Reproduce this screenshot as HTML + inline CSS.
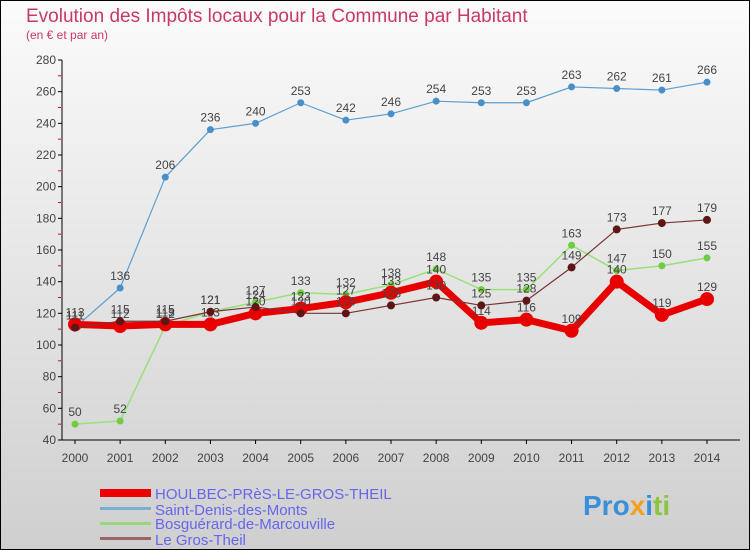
<!DOCTYPE html>
<html><head><meta charset="utf-8"><style>
body{margin:0}
#c{width:750px;height:550px;position:relative;overflow:hidden;font-family:"Liberation Sans",sans-serif}
svg text{font-family:"Liberation Sans",sans-serif}
</style></head><body>
<div id="c">
<svg id="s" width="750" height="550" xmlns="http://www.w3.org/2000/svg">
<defs><linearGradient id="bg" x1="0" y1="0" x2="0" y2="1"><stop offset="0" stop-color="#fbfbfb"/><stop offset="1" stop-color="#cfcfcf"/></linearGradient></defs>
<rect x="0.5" y="0.5" width="749" height="549" fill="url(#bg)" stroke="#000"/>
<text x="26" y="22" font-size="19" fill="#c8386a">Evolution des Impôts locaux pour la Commune par Habitant</text>
<text x="26" y="39" font-size="12" fill="#c8386a">(en € et par an)</text>
<g id="axes"></g><g id="series"></g>
<g>
<rect x="100" y="489" width="51" height="8" fill="#e00"/>
<text x="155" y="499" font-size="15" fill="#6666ee">HOULBEC-PRèS-LE-GROS-THEIL</text>
<rect x="100" y="507" width="51" height="3" fill="#7aaed4"/>
<text x="155" y="515" font-size="15" fill="#6666ee">Saint-Denis-des-Monts</text>
<rect x="100" y="522" width="51" height="3" fill="#99d680"/>
<text x="155" y="529" font-size="15" fill="#6666ee">Bosguérard-de-Marcouville</text>
<rect x="100" y="537" width="51" height="3" fill="#9a6666"/>
<text x="155" y="545" font-size="15" fill="#6666ee">Le Gros-Theil</text>
</g>
<g>
<text x="583" y="515" font-size="28" font-weight="bold"><tspan fill="#3a8fd8">Pro</tspan><tspan fill="#f2a020">x</tspan><tspan fill="#3a8fd8">i</tspan><tspan fill="#8cc63f">ti</tspan></text>
</g>
</svg>
</div>
<script>
const years=[2000,2001,2002,2003,2004,2005,2006,2007,2008,2009,2010,2011,2012,2013,2014];
const yTicks=[40,60,80,100,120,140,160,180,200,220,240,260,280];
const houlbec=[113,112,113,113,120,123,127,133,140,114,116,109,140,119,129];
const saintDenis=[111,136,206,236,240,253,242,246,254,253,253,263,262,261,266];
const bosguerard=[50,52,112,121,127,133,132,138,148,135,135,163,147,150,155];
const grosTheil=[111,115,115,121,124,120,120,125,130,125,128,149,173,177,179];
const NS="http://www.w3.org/2000/svg";
function xS(i){return 75+(707-75)*i/(years.length-1);}
function yS(v){return 440-(v-40)*380/240;}
function mk(tag,attrs,parent){const e=document.createElementNS(NS,tag);for(const k in attrs)e.setAttribute(k,attrs[k]);parent.appendChild(e);return e;}
const ax=document.getElementById('axes');
const yl=mk('line',{x1:62,y1:yS(280),x2:62,y2:440,stroke:'#000'},ax);


const xl=mk('line',{x1:62,y1:440,x2:740,y2:440,stroke:'#000'},ax);


yTicks.forEach(v=>{
 const y=yS(v);
 mk('line',{x1:58,y1:y,x2:62,y2:y,stroke:'#000'},ax);
 mk('line',{x1:58,y1:y+15.8,x2:61,y2:y+15.8,stroke:'#e00'},ax).setAttribute('visibility',v>40?'visible':'hidden');
 const t=mk('text',{x:56,y:y+4,'font-size':12,fill:'#444','text-anchor':'end'},ax);
 t.textContent=v;
 
 
});
years.forEach((yr,i)=>{
 const x=xS(i);
 mk('line',{x1:x,y1:440,x2:x,y2:444,stroke:'#000'},ax);
 const t=mk('text',{x:x,y:462,'font-size':12,fill:'#444','text-anchor':'middle'},ax);
 t.textContent=yr;
 
 
});
const sg=document.getElementById('series');
function draw(vals,color,dot,w,r,name){
 const g=mk('g',{},sg);
 
 
 const pts=vals.map((v,i)=>xS(i)+','+yS(v)).join(' ');
 const pl=mk('polyline',{points:pts,fill:'none',stroke:color,'stroke-width':w,'stroke-linejoin':'round'},g);
 
 
 vals.forEach((v,i)=>{
  const c=mk('circle',{cx:xS(i),cy:yS(v),r:r,fill:dot},g);
  
  
  const t=mk('text',{x:xS(i),y:yS(v)-8,'font-size':12,fill:'#444','text-anchor':'middle'},g);
  t.textContent=v;
  
  
 });
}
draw(saintDenis,'#5a9fd4','#4a90c8',1.2,3.5,'saint-denis');
draw(bosguerard,'#99e07a','#70cc40',1.5,3.5,'bosguerard');
draw(houlbec,'#e80000','#e80000',7,7,'houlbec');
draw(grosTheil,'#7a3535','#5e1515',1.2,4,'gros-theil');
</script>
</body></html>
